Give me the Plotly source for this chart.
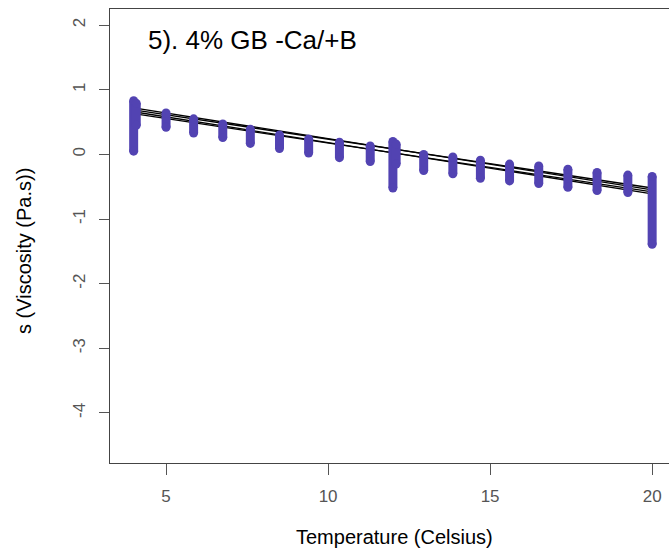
import plotly.graph_objects as go

# ---- data ----
cluster_temp = [4.0, 4.08, 5.0, 5.85, 6.75, 7.6, 8.5, 9.4, 10.35, 11.3, 12.0, 12.1,
                12.95, 13.85, 14.7, 15.6, 16.5, 17.4, 18.3, 19.25, 20.0]
cluster_top = [0.83, 0.79, 0.64, 0.55, 0.47, 0.39, 0.30, 0.24, 0.19, 0.13, 0.20, 0.16,
               0.00, -0.04, -0.09, -0.15, -0.18, -0.23, -0.28, -0.32, -0.34]
cluster_bottom = [0.05, 0.45, 0.42, 0.33, 0.26, 0.17, 0.09, 0.02, -0.05, -0.11, -0.52, -0.15,
                  -0.25, -0.30, -0.37, -0.41, -0.45, -0.51, -0.56, -0.59, -1.39]

fit_temp_start = 4.0
fit_temp_end = 20.0
fit_start = [0.72, 0.66, 0.69, 0.63]
fit_end = [-0.55, -0.61, -0.52, -0.58]

x_ticks = [5, 10, 15, 20]
y_ticks = [2, 1, 0, -1, -2, -3, -4]
y_tick_text = ["2", "1", "0", "-1", "-2", "-3", "-4"]

title_text = "5). 4% GB -Ca/+B"
x_title = "Temperature (Celsius)"
y_title = "s (Viscosity (Pa.s))"

PURPLE = "#5243B2"
FONT = "Liberation Sans, Arial, sans-serif"

fig = go.Figure()

# regression lines (under the points)
for s, e in zip(fit_start, fit_end):
    fig.add_trace(go.Scatter(x=[fit_temp_start, fit_temp_end], y=[s, e], mode="lines",
                             line=dict(color="black", width=1.3), hoverinfo="skip",
                             showlegend=False))

# point clusters as vertical capsules
seg_x, seg_y = [], []
for t, top, bot in zip(cluster_temp, cluster_top, cluster_bottom):
    seg_x += [t, t, None]
    seg_y += [bot, top, None]
fig.add_trace(go.Scatter(x=seg_x, y=seg_y, mode="lines",
                         line=dict(color=PURPLE, width=9), showlegend=False))
fig.add_trace(go.Scatter(x=cluster_temp + cluster_temp, y=cluster_top + cluster_bottom,
                         mode="markers", marker=dict(color=PURPLE, size=9, line=dict(width=0)),
                         showlegend=False))

axis_common = dict(showgrid=False, zeroline=False, showline=True, linecolor="#444",
                   linewidth=1, ticks="outside", tickcolor="#555", tickwidth=1,
                   tickfont=dict(family=FONT, size=17, color="#555"))

fig.update_xaxes(range=[3.27, 20.52], tickvals=x_ticks, ticklen=11, mirror=True,
                 ticklabelstandoff=7, **axis_common)
fig.update_yaxes(range=[-4.775, 2.25], tickvals=y_ticks, ticktext=y_tick_text, ticklen=10,
                 tickangle=-90, ticklabelstandoff=7, **axis_common)

fig.add_annotation(text=title_text, xref="paper", yref="paper",
                   x=(146 - 110) / 559, y=1 - (39.5 - 9) / 454, xanchor="left", yanchor="middle",
                   showarrow=False, font=dict(family=FONT, size=26, color="black"))
fig.add_annotation(text=x_title, xref="paper", yref="paper",
                   x=(394 - 110) / 559, y=1 - (537 - 9) / 454, xanchor="center", yanchor="middle",
                   showarrow=False, font=dict(family=FONT, size=20, color="black"))
fig.add_annotation(text=y_title, xref="paper", yref="paper", textangle=-90,
                   x=(24 - 110) / 559, y=1 - (251 - 9) / 454, xanchor="center", yanchor="middle",
                   showarrow=False, font=dict(family=FONT, size=20, color="black"))

fig.update_layout(width=669, height=556, margin=dict(l=110, r=0, t=9, b=93),
                  paper_bgcolor="white", plot_bgcolor="white", showlegend=False)

fig.write_html("out.html", config={"displayModeBar": False})
